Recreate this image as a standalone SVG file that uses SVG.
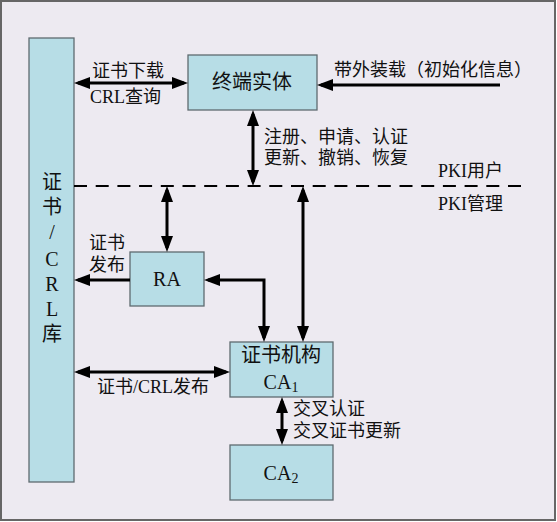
<svg xmlns="http://www.w3.org/2000/svg" width="557" height="522" viewBox="0 0 557 522">
<style>
.box{fill:#b7dde6;stroke:#5f6b70;stroke-width:1.3}
.t{font-family:"Liberation Serif","Noto Sans CJK SC",serif;font-size:18px;fill:#111}
.tb{font-family:"Liberation Serif","Noto Sans CJK SC",serif;font-size:20px;fill:#111}
.c{text-anchor:middle}
.ln{fill:none;stroke:#000;stroke-width:3}
.ds{fill:none;stroke:#000;stroke-width:2;stroke-dasharray:13 8.7}
</style>
<defs>
<marker id="ah" viewBox="0 0 16 12" refX="12" refY="6" markerWidth="16" markerHeight="12" markerUnits="userSpaceOnUse" orient="auto-start-reverse">
<path d="M0,0 L16,6 L0,12 z" fill="#000"/>
</marker>
</defs>
<rect x="1" y="1" width="554" height="519" fill="#edeaf1" stroke="#666" stroke-width="2"/>

<g id="repo">
<rect class="box" x="29" y="38" width="45" height="444"/>
<text class="tb c" x="52" y="189">证</text>
<text class="tb c" x="52" y="214">书</text>
<text class="tb c" x="52" y="239">/</text>
<text class="tb c" x="52" y="266">C</text>
<text class="tb c" x="52" y="291">R</text>
<text class="tb c" x="52" y="316">L</text>
<text class="tb c" x="52" y="341">库</text>
</g>
<g id="entity">
<rect class="box" x="188" y="55" width="129" height="55"/>
<text class="tb c" x="252" y="89">终端实体</text>
</g>
<g id="ra">
<rect class="box" x="130" y="252" width="74" height="54"/>
<text class="tb c" x="167" y="286">RA</text>
</g>
<g id="ca1">
<rect class="box" x="230" y="342" width="103" height="55"/>
<text class="tb c" x="281" y="362">证书机构</text>
<text class="tb c" x="281" y="389">CA<tspan font-size="14" dy="3">1</tspan></text>
</g>
<g id="ca2">
<rect class="box" x="230" y="445" width="103" height="55"/>
<text class="tb c" x="281" y="480">CA<tspan font-size="14" dy="3">2</tspan></text>
</g>

<g id="connectors">
<line class="ds" x1="74" y1="186" x2="527" y2="186"/>
<line class="ln" x1="78" y1="83" x2="184" y2="83" marker-start="url(#ah)" marker-end="url(#ah)"/>
<line class="ln" x1="500" y1="85" x2="321" y2="85" marker-end="url(#ah)"/>
<line class="ln" x1="253" y1="114" x2="253" y2="182" marker-start="url(#ah)" marker-end="url(#ah)"/>
<line class="ln" x1="167" y1="190" x2="167" y2="248" marker-start="url(#ah)" marker-end="url(#ah)"/>
<line class="ln" x1="303" y1="190" x2="303" y2="338" marker-start="url(#ah)" marker-end="url(#ah)"/>
<path class="ln" d="M208,280 H264 V338" marker-start="url(#ah)" marker-end="url(#ah)"/>
<line class="ln" x1="130" y1="280" x2="78" y2="280" marker-end="url(#ah)"/>
<line class="ln" x1="78" y1="372" x2="226" y2="372" marker-start="url(#ah)" marker-end="url(#ah)"/>
<line class="ln" x1="282" y1="401" x2="282" y2="441" marker-start="url(#ah)" marker-end="url(#ah)"/>
</g>

<g id="labels">
<text class="t" x="92" y="77">证书下载</text>
<text class="t" x="90" y="103">CRL查询</text>
<text class="t" x="334" y="76">带外装载（初始化信息）</text>
<text class="t" x="264" y="143">注册、申请、认证</text>
<text class="t" x="264" y="164">更新、撤销、恢复</text>
<text class="t" x="438" y="177" font-size="19">PKI用户</text>
<text class="t" x="438" y="210" font-size="19">PKI管理</text>
<text class="t" x="89" y="249">证书</text>
<text class="t" x="89" y="271">发布</text>
<text class="t" x="97" y="393">证书/CRL发布</text>
<text class="t" x="293" y="415">交叉认证</text>
<text class="t" x="293" y="437">交叉证书更新</text>
</g>
</svg>
